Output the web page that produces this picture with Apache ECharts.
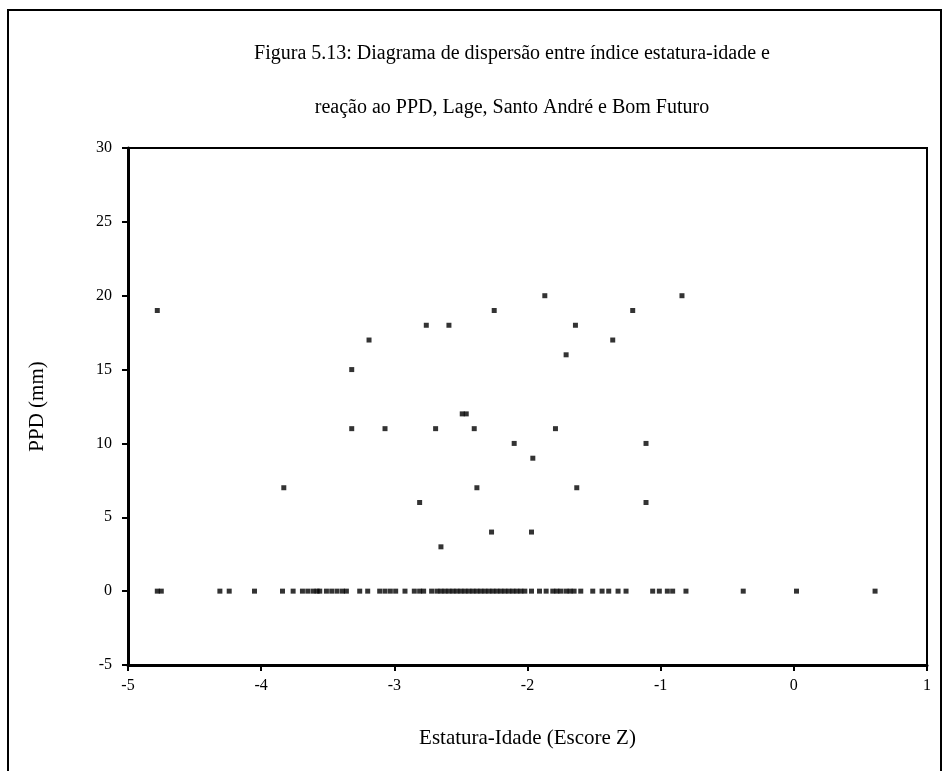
<!DOCTYPE html>
<html>
<head>
<meta charset="utf-8">
<script src="https://cdn.jsdelivr.net/npm/echarts@6/dist/echarts.min.js"></script>
<style>
  html, body { margin: 0; padding: 0; background: #fff; }
  #chart { width: 951px; height: 771px; }
</style>
</head>
<body>
<div id="chart"></div>
<script>
// Height-for-age z-score (x) and PPD skin test induration in mm (y), one entry per child
const escoreZ = [
  -4.78, -3.83, -3.32, -3.32, -3.19, -3.07, -2.81, -2.76, -2.69, -2.65,
  -2.59, -2.49, -2.46, -2.40, -2.38, -2.27, -2.25, -2.10, -1.97, -1.96,
  -1.87, -1.79, -1.71, -1.64, -1.63, -1.36, -1.21, -1.11, -1.11, -0.84,
  -4.78, -4.75, -4.31, -4.24, -4.05, -3.84, -3.76, -3.69, -3.65, -3.61,
  -3.58, -3.56, -3.51, -3.47, -3.43, -3.39, -3.36, -3.26, -3.20, -3.11,
  -3.07, -3.03, -2.99, -2.92, -2.85, -2.81, -2.78, -2.72, -2.68, -2.65,
  -2.62, -2.59, -2.56, -2.53, -2.50, -2.47, -2.44, -2.41, -2.38, -2.35,
  -2.32, -2.29, -2.26, -2.23, -2.20, -2.17, -2.14, -2.11, -2.08, -2.05,
  -2.02, -1.97, -1.91, -1.86, -1.81, -1.78, -1.75, -1.71, -1.68, -1.65,
  -1.60, -1.51, -1.44, -1.39, -1.32, -1.26, -1.06, -1.01, -0.95, -0.91,
  -0.81, -0.38, 0.02, 0.61
];
const ppd = [
  19, 7, 15, 11, 17, 11, 6, 18, 11, 3,
  18, 12, 12, 11, 7, 4, 19, 10, 4, 9,
  20, 11, 16, 18, 7, 17, 19, 10, 6, 20,
  0, 0, 0, 0, 0, 0, 0, 0, 0, 0,
  0, 0, 0, 0, 0, 0, 0, 0, 0, 0,
  0, 0, 0, 0, 0, 0, 0, 0, 0, 0,
  0, 0, 0, 0, 0, 0, 0, 0, 0, 0,
  0, 0, 0, 0, 0, 0, 0, 0, 0, 0,
  0, 0, 0, 0, 0, 0, 0, 0, 0, 0,
  0, 0, 0, 0, 0, 0, 0, 0, 0, 0,
  0, 0, 0, 0
];
const xTicks = { min: -5, max: 1, step: 1 };
const yTicks = { min: -5, max: 30, step: 5 };
const titleLines = [
  'Figura 5.13: Diagrama de dispersão entre índice estatura-idade e',
  'reação ao PPD, Lage, Santo André e Bom Futuro'
];
const xName = 'Estatura-Idade (Escore Z)';
const yName = 'PPD (mm)';

const points = escoreZ.map((z, i) => [z, ppd[i]]);
const serif = '"Liberation Serif", "Times New Roman", serif';

const chart = echarts.init(document.getElementById('chart'), null, { renderer: 'canvas' });
chart.setOption({
  animation: false,
  backgroundColor: '#fff',
  grid: {
    left: 128, right: 24, top: 148, bottom: 106,
    show: true, borderColor: '#000', borderWidth: 2, backgroundColor: 'transparent'
  },
  graphic: [
    // outer figure frame
    { type: 'polyline', shape: { points: [[8, 771], [8, 10], [941, 10], [941, 771]] },
      style: { stroke: '#000', lineWidth: 2, fill: null }, silent: true },
    { type: 'text', x: 512, y: 54,
      style: { text: titleLines[0], font: '20px ' + serif, fill: '#000', textAlign: 'center', textVerticalAlign: 'middle' } },
    { type: 'text', x: 512, y: 108,
      style: { text: titleLines[1], font: '20px ' + serif, fill: '#000', textAlign: 'center', textVerticalAlign: 'middle' } }
  ],
  xAxis: {
    type: 'value', min: xTicks.min, max: xTicks.max, interval: xTicks.step,
    name: xName, nameLocation: 'middle', nameGap: 63,
    nameTextStyle: { fontFamily: serif, fontSize: 21, color: '#000' },
    axisLine: { onZero: false, lineStyle: { color: '#000', width: 3 } },
    axisTick: { show: true, inside: false, length: 6, lineStyle: { color: '#000', width: 2 } },
    axisLabel: { fontFamily: serif, fontSize: 16, color: '#000', margin: 13 },
    splitLine: { show: false }
  },
  yAxis: {
    type: 'value', min: yTicks.min, max: yTicks.max, interval: yTicks.step,
    name: yName, nameLocation: 'middle', nameGap: 80, nameRotate: 90,
    nameTextStyle: { fontFamily: serif, fontSize: 21, color: '#000' },
    axisLine: { onZero: false, lineStyle: { color: '#000', width: 3 } },
    axisTick: { show: true, inside: false, length: 6, lineStyle: { color: '#000', width: 2 } },
    axisLabel: { fontFamily: serif, fontSize: 16, color: '#000', margin: 16 },
    splitLine: { show: false }
  },
  series: [{
    type: 'scatter',
    data: points,
    symbol: 'rect',
    symbolSize: 5,
    itemStyle: { color: '#000' }
  }]
});
</script>
</body>
</html>
